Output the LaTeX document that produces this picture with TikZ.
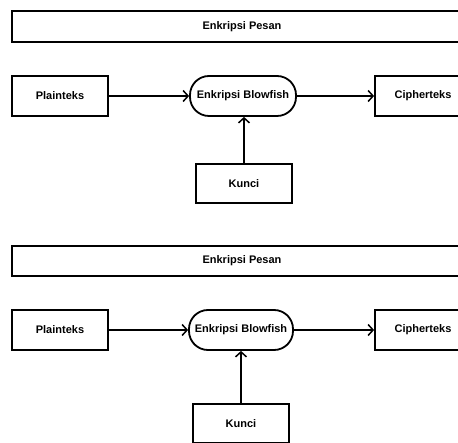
\documentclass[tikz,border=0pt]{standalone}
\usepackage{fontspec}
\setmainfont{Liberation Sans}
\usetikzlibrary{arrows.meta}
\begin{document}
\begin{tikzpicture}[x=1pt,y=-1pt,
  box/.style={draw=black,line width=1.8pt,fill=white,inner sep=0pt,
    font=\fontsize{11}{13}\selectfont\bfseries},
  proc/.style={box,rounded corners=19pt},
  flow/.style={line width=1.7pt,-{Straight Barb[length=5pt,width=11pt,line width=1.5pt]}}]
\useasboundingbox (0,0) rectangle (458,443);
\clip (0,0) rectangle (458,443);
\fill[white] (0,0) rectangle (458,443);
% top panel
\node[box,minimum width=460pt,minimum height=31pt] (t1) at (242,26.5) {Enkripsi Pesan};
\node[box,minimum width=96pt,minimum height=40pt] (p1) at (60,96) {Plainteks};
\node[proc,minimum width=106pt,minimum height=40pt] (b1) at (243,96) {Enkripsi Blowfish};
\node[box,minimum width=96pt,minimum height=40pt] (c1) at (423,96) {Cipherteks};
\node[box,minimum width=96pt,minimum height=39pt] (k1) at (244,183.5) {Kunci};
\draw[flow] (p1) -- (b1);
\draw[flow] (b1) -- (c1);
\draw[flow] (k1.north) -- (b1.south -| k1.north);
% bottom panel
\node[box,minimum width=460pt,minimum height=30pt] (t2) at (242,261) {Enkripsi Pesan};
\node[box,minimum width=96pt,minimum height=40pt] (p2) at (60,330) {Plainteks};
\node[proc,minimum width=104pt,minimum height=40pt] (b2) at (241,330) {Enkripsi Blowfish};
\node[box,minimum width=96pt,minimum height=40pt] (c2) at (423,330) {Cipherteks};
\node[box,minimum width=96pt,minimum height=39pt] (k2) at (241,423.5) {Kunci};
\draw[flow] (p2) -- (b2);
\draw[flow] (b2) -- (c2);
\draw[flow] (k2.north) -- (b2.south -| k2.north);
\end{tikzpicture}
\end{document}
